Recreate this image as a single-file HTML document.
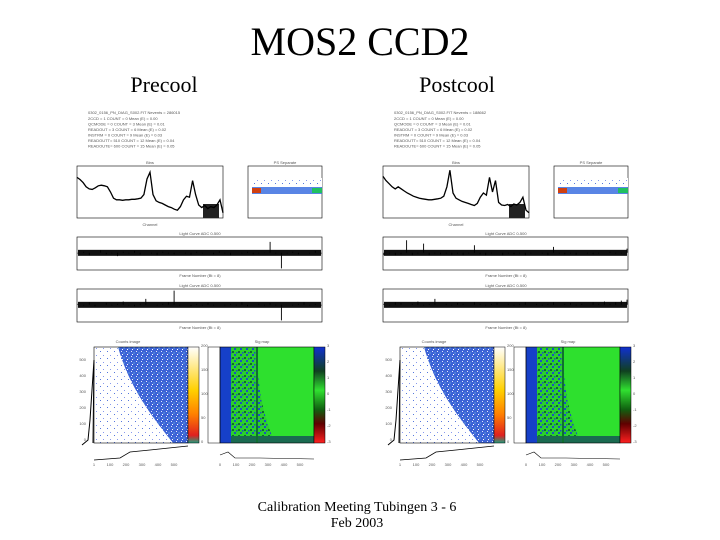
<!DOCTYPE html>
<html><head><meta charset="utf-8"><style>
html,body{margin:0;padding:0;background:#fff}
svg{display:block}
text{font-family:"Liberation Serif",serif}
.sm{font-family:"Liberation Sans",sans-serif;font-size:4px;fill:#555}
</style></head><body>
<svg id="s" width="720" height="540" viewBox="0 0 720 540">
<defs>
<pattern id="speck" width="5" height="5" patternUnits="userSpaceOnUse">
<rect width="5" height="5" fill="#3c62d6"/>
<rect x="1" y="1" width="1" height="1" fill="#dfe8ff"/>
<rect x="3.5" y="2.5" width="1" height="1" fill="#7fd0e0"/>
<rect x="2" y="4" width="1" height="1" fill="#ffffff"/>
</pattern>
<pattern id="sparse" width="7" height="7" patternUnits="userSpaceOnUse">
<rect width="7" height="7" fill="#fff"/>
<rect x="2" y="1" width="1" height="1" fill="#5577dd"/>
<rect x="5" y="5" width="1" height="1" fill="#8899ee"/>
</pattern>
<pattern id="mix" width="6" height="6" patternUnits="userSpaceOnUse">
<rect width="6" height="6" fill="#2bd02b"/>
<rect x="0" y="0" width="2" height="2" fill="#1a50c0"/>
<rect x="4" y="3" width="2" height="2" fill="#106a30"/>
<rect x="2" y="4" width="1.5" height="1.5" fill="#1a50c0"/>
</pattern>
<linearGradient id="cb1" x1="0" y1="1" x2="0" y2="0">
<stop offset="0" stop-color="#20a080"/><stop offset="0.08" stop-color="#e02020"/><stop offset="0.3" stop-color="#ff8000"/><stop offset="0.55" stop-color="#ffd000"/><stop offset="1" stop-color="#ffffff"/>
</linearGradient>
<linearGradient id="cb2" x1="0" y1="1" x2="0" y2="0">
<stop offset="0" stop-color="#ff2020"/><stop offset="0.2" stop-color="#600000"/><stop offset="0.35" stop-color="#106010"/><stop offset="0.55" stop-color="#30e030"/><stop offset="0.75" stop-color="#104020"/><stop offset="1" stop-color="#1030d0"/>
</linearGradient>
</defs>
<text x="360" y="55" font-size="40" text-anchor="middle">MOS2 CCD2</text>
<text x="164" y="92" font-size="22" text-anchor="middle">Precool</text>
<text x="457" y="92" font-size="22" text-anchor="middle">Postcool</text>
<text x="357" y="511" font-size="14" text-anchor="middle">Calibration Meeting Tubingen 3 - 6</text>
<text x="357" y="527" font-size="14" text-anchor="middle">Feb 2003</text>
</svg>
<script>
// data
const spectrumPre=[0.78,0.74,0.68,0.6,0.56,0.55,0.58,0.62,0.63,0.62,0.6,0.5,0.38,0.35,0.35,0.34,0.35,0.35,0.36,0.36,0.37,0.38,0.45,0.75,0.88,0.45,0.33,0.3,0.28,0.25,0.22,0.2,0.17,0.15,0.22,0.35,0.42,0.4,0.72,0.45,0.25,0.2,0.24,0.18,0.22,0.2,0.25,0.35,0.1];
const spectrumPost=[0.8,0.72,0.66,0.6,0.56,0.6,0.56,0.52,0.48,0.45,0.42,0.4,0.38,0.37,0.36,0.35,0.35,0.36,0.37,0.38,0.42,0.6,0.92,0.48,0.38,0.35,0.32,0.3,0.28,0.26,0.24,0.28,0.4,0.48,0.44,0.78,0.5,0.72,0.3,0.25,0.24,0.26,0.22,0.27,0.25,0.3,0.4,0.15,0.1];
const lcPre1=[0.5,0.55,0.45,0.52,0.6,0.48,0.5,0.42,0.55,0.5,0.58,0.47,0.52,0.5,0.45,0.55,0.5,0.48,0.53,0.5,0.46,0.55,0.5,0.52,0.48,0.57,0.5,0.45,0.52,0.5,0.55,0.48,0.5,0.53,0.85,0.5,0.05,0.5,0.55,0.48,0.52,0.5,0.58,0.5];
const lcPre2=[0.55,0.5,0.6,0.48,0.52,0.58,0.5,0.55,0.62,0.5,0.48,0.55,0.7,0.52,0.5,0.55,0.6,0.95,0.5,0.52,0.48,0.55,0.5,0.58,0.5,0.52,0.5,0.55,0.5,0.6,0.48,0.52,0.55,0.5,0.58,0.5,0.05,0.52,0.5,0.55,0.6,0.5,0.55,0.5];
const lcPost1=[0.45,0.5,0.45,0.48,0.9,0.45,0.5,0.8,0.45,0.5,0.48,0.5,0.46,0.5,0.45,0.5,0.75,0.48,0.45,0.5,0.52,0.45,0.5,0.48,0.5,0.45,0.5,0.52,0.5,0.45,0.7,0.5,0.48,0.5,0.46,0.52,0.5,0.48,0.5,0.52,0.55,0.5,0.5,0.65];
const lcPost2=[0.55,0.5,0.6,0.58,0.52,0.55,0.62,0.5,0.55,0.7,0.52,0.55,0.5,0.58,0.55,0.52,0.6,0.55,0.5,0.55,0.58,0.52,0.55,0.5,0.55,0.6,0.52,0.55,0.5,0.55,0.6,0.52,0.55,0.58,0.5,0.55,0.52,0.6,0.55,0.62,0.55,0.6,0.65,0.68];
const NS="http://www.w3.org/2000/svg";
const svg=document.getElementById('s');
function mk(t,a,p){const e=document.createElementNS(NS,t);for(const k in a)e.setAttribute(k,a[k]);p.appendChild(e);return e;}
function lineFrom(arr,x0,x1,y0,y1){const xs=i=>x0+(x1-x0)*i/(arr.length-1);const ys=v=>y1-(y1-y0)*v;return arr.map((v,i)=>(i?'L':'M')+xs(i).toFixed(1)+','+ys(v).toFixed(1)).join('');}
function spikes(arr,x0,x1,y0,y1,base){const xs=i=>x0+(x1-x0)*i/(arr.length-1);const ys=v=>y1-(y1-y0)*v;const yb=ys(base);return arr.map((v,i)=>'M'+xs(i).toFixed(1)+','+yb.toFixed(1)+'L'+xs(i).toFixed(1)+','+ys(v).toFixed(1)).join('');}
function panel(dx,spec,lc1,lc2,name,top){
 const g=mk('g',{transform:'translate('+dx+',0)'},svg);
 
 
 const lines=['2CCD    =    1','QCMODE  =    0','READOUT =    3','INSTRM  =    0','READOUTT=  510','READOUTE=  600'];
 const t0=mk('text',{x:88,y:114,class:'sm'},g);t0.textContent='0302_0156_PN_DIAG_S002.FIT    Nevents = '+top;
 lines.forEach((l,i)=>{const t=mk('text',{x:88,y:120+i*5.5,class:'sm'},g);t.textContent=l+'      COUNT =   '+(i*3)+'        Mean (E) = 0.0'+i;});
 // spectrum
 const sp=mk('g',{},g);
 
 
 mk('rect',{x:77,y:166,width:146,height:52,fill:'none',stroke:'#000','stroke-width':0.6},sp);
 mk('rect',{x:203,y:204,width:16,height:14,fill:'#222'},sp);
 const p=mk('path',{d:lineFrom(spec,77,223,166,218),fill:'none',stroke:'#000','stroke-width':1.3},sp);
 
 
 let tt=mk('text',{x:150,y:164,class:'sm','text-anchor':'middle'},sp);tt.textContent='Bins';
 tt=mk('text',{x:150,y:226,class:'sm','text-anchor':'middle'},sp);tt.textContent='Channel';
 // scatter
 const sc=mk('g',{},g);
 
 
 mk('rect',{x:248,y:166,width:74,height:52,fill:'none',stroke:'#000','stroke-width':0.6},sc);
 mk('rect',{x:252,y:178,width:70,height:9,fill:'url(#sparse)'},sc);
 mk('rect',{x:252,y:187,width:70,height:7,fill:'#3c70e0',opacity:0.85},sc);
 mk('rect',{x:252,y:188,width:9,height:5,fill:'#d04010'},sc);
 mk('rect',{x:312,y:188,width:10,height:5,fill:'#20c060'},sc);
 tt=mk('text',{x:285,y:164,class:'sm','text-anchor':'middle'},sc);tt.textContent='PS Separate';
 // light curves
 [[lc1,237,270,'light-curve-1'],[lc2,289,322,'light-curve-2']].forEach(([a,y0,y1,n])=>{
  const lg=mk('g',{},g);
  
  
  mk('rect',{x:77,y:y0,width:245,height:y1-y0,fill:'none',stroke:'#000','stroke-width':0.6},lg);
  const yc=y1-(y1-y0)*0.52;
  mk('rect',{x:78,y:yc-3,width:243,height:6,fill:'#111'},lg);
  mk('path',{d:spikes(a,78,321,y0,y1,0.52),fill:'none',stroke:'#000','stroke-width':0.9},lg);
  const l=mk('text',{x:200,y:y0-2,class:'sm','text-anchor':'middle'},lg);l.textContent='Light Curve ADC 0-500';
  const l2=mk('text',{x:200,y:y1+7,class:'sm','text-anchor':'middle'},lg);l2.textContent='Frame Number (Bt = 8)';
 });
 // counts image
 const ci=mk('g',{},g);
 
 
 mk('rect',{x:94,y:347,width:94,height:96,fill:'url(#sparse)'},ci);
 mk('path',{d:'M118,347 C130,390 155,420 173,443 L188,443 L188,347 Z',fill:'url(#speck)'},ci);
 mk('rect',{x:94,y:347,width:94,height:96,fill:'none',stroke:'#000','stroke-width':0.6},ci);
 mk('rect',{x:188,y:347,width:11,height:96,fill:'url(#cb1)',stroke:'#000','stroke-width':0.5},ci);
 mk('path',{d:'M93,443 L94,360 L90,420 L88,440 L82,445',fill:'none',stroke:'#000','stroke-width':1},ci);
 mk('path',{d:'M94,460 L120,458 L130,452 L150,450 L188,446',fill:'none',stroke:'#000','stroke-width':0.8},ci);
 tt=mk('text',{x:128,y:343,class:'sm','text-anchor':'middle','font-size':6},ci);tt.textContent='Counts image';
 ['0','100','200','300','400','500'].forEach((s,i)=>{const t=mk('text',{x:86,y:441-i*16,class:'sm','text-anchor':'end','font-size':5},ci);t.textContent=s;});
 ['1','100','200','300','400','500'].forEach((s,i)=>{const t=mk('text',{x:94+i*16,y:466,class:'sm','text-anchor':'middle','font-size':5},ci);t.textContent=s;});
 ['0','50','100','150','200'].forEach((s,i)=>{const t=mk('text',{x:201,y:443-i*24,class:'sm','font-size':5},ci);t.textContent=s;});
 // sigma map
 const sm=mk('g',{},g);
 
 
 mk('rect',{x:220,y:347,width:94,height:96,fill:'#2ee02e'},sm);
 mk('path',{d:'M231,347 L258,347 C256,380 262,410 272,436 L231,436 Z',fill:'url(#mix)'},sm);
 mk('rect',{x:220,y:347,width:11,height:96,fill:'#1640c8'},sm);
 mk('rect',{x:231,y:436,width:83,height:7,fill:'#1a6a50'},sm);
 mk('rect',{x:256,y:347,width:2,height:96,fill:'#107030'},sm);
 mk('rect',{x:220,y:347,width:94,height:96,fill:'none',stroke:'#000','stroke-width':0.6},sm);
 mk('rect',{x:314,y:347,width:11,height:96,fill:'url(#cb2)',stroke:'#000','stroke-width':0.5},sm);
 mk('rect',{x:208,y:347,width:12,height:96,fill:'none',stroke:'#000','stroke-width':0.5},sm);
 mk('path',{d:'M220,455 L228,452 L235,458 L260,458 L314,459',fill:'none',stroke:'#000','stroke-width':0.6},sm);
 tt=mk('text',{x:262,y:343,class:'sm','text-anchor':'middle','font-size':6},sm);tt.textContent='Sig map';
 ['0','100','200','300','400','500'].forEach((s,i)=>{const t=mk('text',{x:220+i*16,y:466,class:'sm','text-anchor':'middle','font-size':5},sm);t.textContent=s;});
 ['-3','-2','-1','0','1','2','3'].forEach((s,i)=>{const t=mk('text',{x:327,y:443-i*16,class:'sm','font-size':5},sm);t.textContent=s;});
}
panel(0,spectrumPre,lcPre1,lcPre2,'precool-panel','286015');
panel(306,spectrumPost,lcPost1,lcPost2,'postcool-panel','188662');
</script>
</body></html>
